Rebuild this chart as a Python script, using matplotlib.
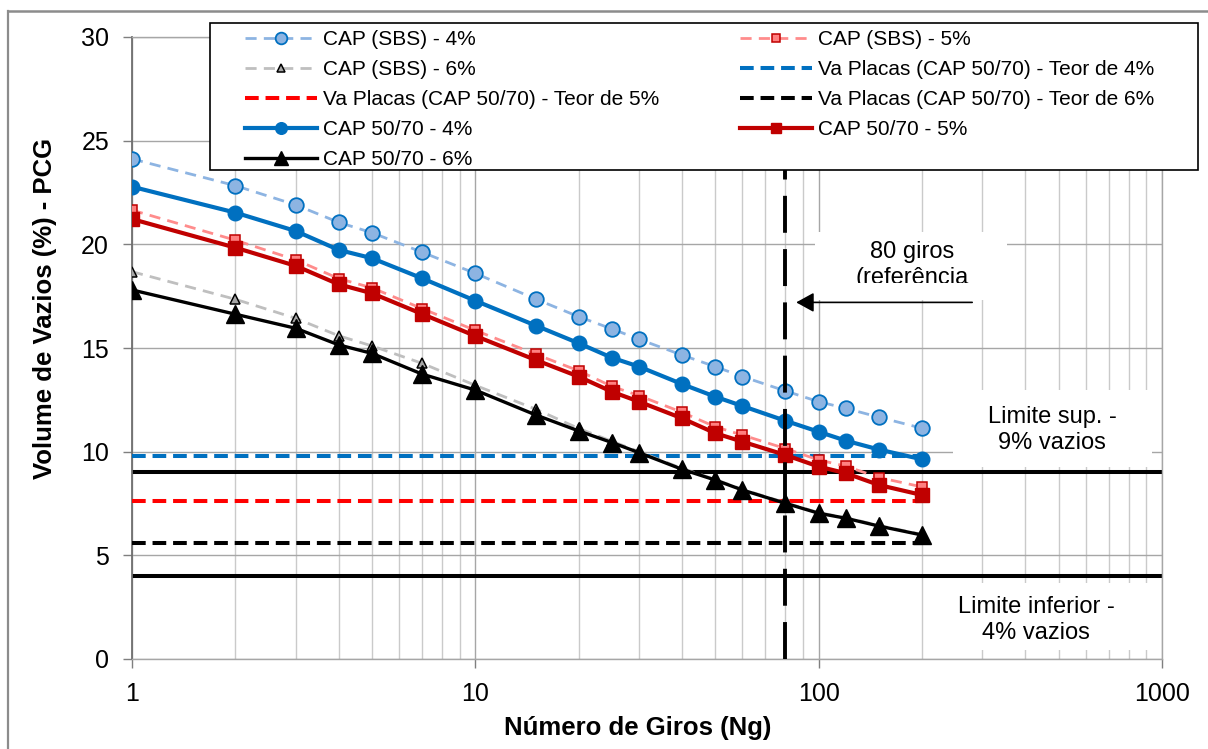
import matplotlib
matplotlib.use("Agg")
import matplotlib.pyplot as plt
from matplotlib.patches import Rectangle
from matplotlib.lines import Line2D
from matplotlib.ticker import LogLocator, NullFormatter

plt.rcParams['font.family'] = ['Liberation Sans', 'DejaVu Sans']

# Number of gyrations and air-void content (%) for each mixture
giros = [1, 2, 3, 4, 5, 7, 10, 15, 20, 25, 30, 40, 50, 60, 80, 100, 120, 150, 200]
sbs_4 = [24.12, 22.83, 21.90, 21.06, 20.56, 19.62, 18.60, 17.36, 16.51, 15.92,
         15.42, 14.66, 14.10, 13.62, 12.93, 12.41, 12.09, 11.66, 11.13]
sbs_5 = [21.65, 20.20, 19.25, 18.35, 17.90, 16.90, 15.85, 14.70, 13.90, 13.15,
         12.70, 11.90, 11.20, 10.80, 10.15, 9.60, 9.30, 8.75, 8.30]
sbs_6 = [18.68, 17.35, 16.43, 15.59, 15.10, 14.26, 13.20, 12.05, 11.12, 10.50,
         10.00, 9.19, 8.66, 8.18, 7.54, 7.06, 6.82, 6.44, 6.01]
cap_4 = [22.78, 21.53, 20.64, 19.73, 19.33, 18.36, 17.28, 16.08, 15.23, 14.53,
         14.10, 13.26, 12.65, 12.20, 11.49, 10.96, 10.53, 10.10, 9.63]
cap_5 = [21.22, 19.84, 18.96, 18.07, 17.64, 16.64, 15.58, 14.42, 13.62, 12.89,
         12.41, 11.61, 10.89, 10.48, 9.84, 9.28, 8.96, 8.39, 7.91]
cap_6 = [17.80, 16.63, 15.95, 15.15, 14.74, 13.74, 12.97, 11.77, 11.00, 10.44,
         9.95, 9.15, 8.63, 8.15, 7.51, 7.03, 6.79, 6.41, 5.98]

# Air voids measured on slabs (CAP 50/70) for each binder content
va_placas = {'4': 9.8, '5': 7.6, '6': 5.6}
limite_sup = 9
limite_inf = 4
giros_ref = 80

W, H = 1208, 749
fig = plt.figure(figsize=(W / 100, H / 100), dpi=100)


def fx(px):
    return px / W


def fy(py):
    return 1 - py / H


ax = fig.add_axes([fx(132), fy(659), fx(1162) - fx(132), fy(37) - fy(659)])
ax.set_xscale('log')
ax.set_xlim(1, 1000)
ax.set_ylim(0, 30)
ax.set_axisbelow(True)

# grid
ax.xaxis.set_minor_locator(LogLocator(base=10, subs=range(2, 10)))
ax.xaxis.set_minor_formatter(NullFormatter())
ax.grid(True, which='major', color='#a6a6a6', lw=1.0)
ax.grid(True, which='minor', axis='x', color='#cacaca', lw=1.0)
ax.set_xticks([1, 10, 100, 1000])
ax.set_xticklabels(['1', '10', '100', '1000'])
ax.set_yticks(range(0, 31, 5))
ax.tick_params(which='major', direction='out', length=6.5, width=1.0,
               color='#7f7f7f', pad=10, labelsize=18, labelcolor='black')
ax.tick_params(which='minor', length=0)
for s in ('top', 'right', 'bottom'):
    ax.spines[s].set_color('#a6a6a6')
    ax.spines[s].set_linewidth(1.0)
ax.spines['left'].set_color('#6f6f6f')
ax.spines['left'].set_linewidth(1.3)

# limit lines
ax.axhline(limite_sup, color='black', lw=2.9, zorder=2)
ax.axhline(limite_inf, color='black', lw=2.9, zorder=2)

# slab air-void reference lines
xr = [giros[0], giros[-1]]
h_va4, = ax.plot(xr, [va_placas['4']] * 2, color='#0070C0', lw=2.9,
                 dashes=(3.4, 1.7), zorder=3)
h_va5, = ax.plot(xr, [va_placas['5']] * 2, color='#FF0000', lw=2.9,
                 dashes=(3.4, 1.7), zorder=3)
h_va6, = ax.plot(xr, [va_placas['6']] * 2, color='black', lw=2.9,
                 dashes=(3.4, 1.7), zorder=3)

# SBS-modified mixtures
h_s4, = ax.plot(giros, sbs_4, color='#8DB4E2', lw=2.0, dashes=(4, 2.6),
                marker='o', ms=10.5, mfc='#8DB4E2', mec='#0070C0', mew=1.3,
                zorder=4)
h_s5, = ax.plot(giros, sbs_5, color='#FF8C8C', lw=2.0, dashes=(4, 2.6),
                marker='s', ms=7.5, mfc='#FF8080', mec='#C00000', mew=1.1,
                zorder=4)
h_s6, = ax.plot(giros, sbs_6, color='#BFBFBF', lw=2.0, dashes=(4, 2.6),
                marker='^', ms=7.5, mfc='#A6A6A6', mec='black', mew=1.1,
                zorder=4)

# CAP 50/70 mixtures
h_c4, = ax.plot(giros, cap_4, color='#0070C0', lw=3.0, marker='o', ms=10.5,
                mfc='#0070C0', mec='#0070C0', zorder=5)
h_c5, = ax.plot(giros, cap_5, color='#C00000', lw=3.0, marker='s', ms=9.5,
                mfc='#C00000', mec='#C00000', zorder=5)
h_c6, = ax.plot(giros, cap_6, color='black', lw=2.4, marker='^', ms=13,
                mfc='black', mec='black', zorder=5)

# reference line at 80 gyrations
ax.axvline(giros_ref, color='black', lw=2.8, dashes=(9.5, 4.2), zorder=6)

# annotation boxes
def white_box(x0, y0, x1, y1):
    r = Rectangle((fx(x0), fy(y1)), fx(x1) - fx(x0), fy(y0) - fy(y1),
                  transform=fig.transFigure, facecolor='white',
                  edgecolor='none', zorder=20)
    ax.add_patch(r)
    return r


def clip_rect(x0, y0, x1, y1):
    return Rectangle((fx(x0), fy(y1)), fx(x1) - fx(x0), fy(y0) - fy(y1),
                     transform=fig.transFigure)


def box_text(x, y, s, clip):
    t = ax.text(fx(x), fy(y), s, transform=fig.transFigure, ha='center',
                va='center', fontsize=17, color='black', zorder=21,
                clip_on=True)
    t.set_clip_path(clip)
    return t


white_box(815, 232, 1007, 300)
c1 = clip_rect(815, 232, 1007, 283)
box_text(912, 252, '80 giros', c1)
box_text(912, 278, '(referência', c1)

ax.annotate('', xy=(86, 17.2), xytext=(280, 17.2),
            arrowprops=dict(arrowstyle='-|>,head_length=0.4,head_width=0.22',
                            color='black', lw=1.2, mutation_scale=27,
                            shrinkA=0, shrinkB=0), zorder=22)

white_box(953, 390, 1152, 467)
c2 = clip_rect(953, 390, 1152, 467)
box_text(1052, 417, 'Limite sup. -', c2)
box_text(1052, 443, '9% vazios', c2)

white_box(947, 583, 1148, 650)
c3 = clip_rect(947, 583, 1148, 639)
box_text(1036, 607, 'Limite inferior -', c3)
box_text(1036, 633, '4% vazios', c3)

# axis titles
fig.text(fx(638), fy(728), 'Número de Giros (Ng)', ha='center', va='center',
         fontsize=18.5, fontweight='bold')
fig.text(fx(45), fy(308), 'Volume de Vazios (%) - PCG', ha='center',
         va='center', rotation=90, fontsize=18.5, fontweight='bold')

# legend
fig.add_artist(Rectangle((fx(210), fy(170)), fx(1198) - fx(210),
                         fy(23) - fy(170), transform=fig.transFigure,
                         facecolor='white', edgecolor='black', lw=1.2,
                         zorder=4.9))
handles = [h_s4, h_s6, h_va5, h_c4, h_c6, h_s5, h_va4, h_va6, h_c5]
labels = ['CAP (SBS) - 4%', 'CAP (SBS) - 6%',
          'Va Placas (CAP 50/70) - Teor de 5%', 'CAP 50/70 - 4%',
          'CAP 50/70 - 6%', 'CAP (SBS) - 5%',
          'Va Placas (CAP 50/70) - Teor de 4%',
          'Va Placas (CAP 50/70) - Teor de 6%', 'CAP 50/70 - 5%']
leg = fig.legend(handles, labels, loc='upper left',
                 bbox_to_anchor=(fx(245), fy(30)), ncol=2, frameon=False,
                 fontsize=15, handlelength=3.45, handletextpad=0.28,
                 columnspacing=3.9, labelspacing=0.53, borderpad=0,
                 borderaxespad=0, markerscale=0.8, numpoints=1)
leg.set_zorder(5)

# outer chart border
fig.add_artist(Line2D([fx(8), fx(8)], [fy(11), 0], transform=fig.transFigure,
                      color='#8c8c8c', lw=1.6))
fig.add_artist(Line2D([fx(8), 1], [fy(11), fy(11)], transform=fig.transFigure,
                      color='#8c8c8c', lw=1.8))

fig.savefig('out.png', dpi=100)
